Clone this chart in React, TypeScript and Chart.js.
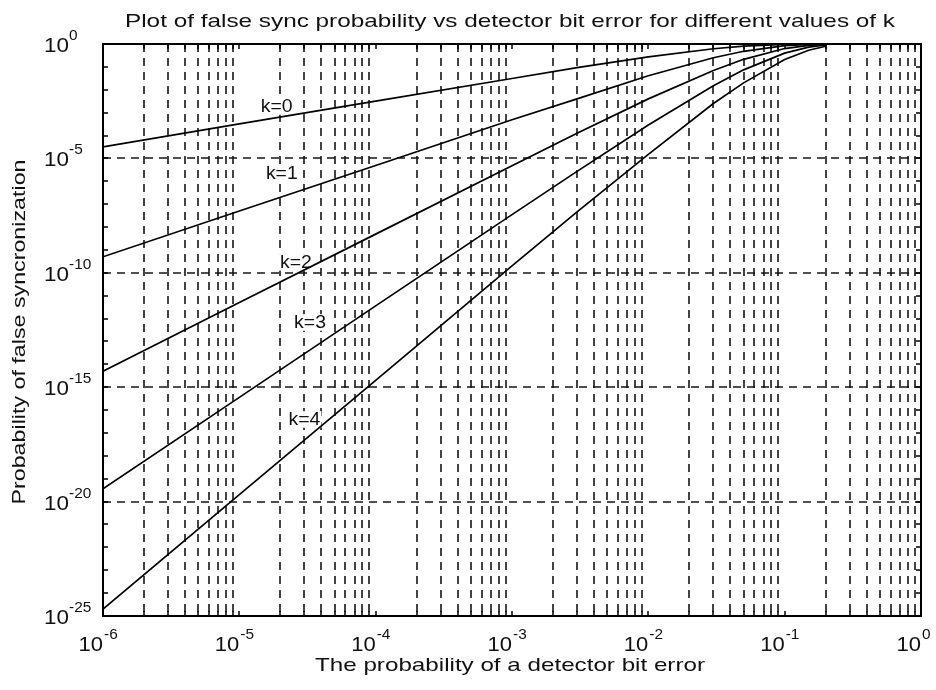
import React, { useEffect, useRef } from "react";
import { Chart, registerables } from "chart.js";

Chart.register(...registerables);

// ---- data ----
const bitErrorProb = [1e-6, 1e-5, 1e-4, 1e-3, 3e-3, 1e-2, 3e-2, 5e-2, 0.1, 0.15, 0.2];
const falseSyncK0 = [3.2e-5, 3.2e-4, 3.2e-3, 3.1e-2, 9.2e-2, 0.275, 0.62, 0.806, 0.966, 0.994, 0.999];
const falseSyncK1 = [5.0e-10, 5.0e-8, 4.9e-6, 4.9e-4, 4.0e-3, 0.041, 0.25, 0.48, 0.844, 0.963, 0.993];
const falseSyncK2 = [5.0e-15, 5.0e-12, 4.9e-9, 4.8e-6, 1.25e-4, 4.0e-3, 7.0e-2, 0.214, 0.633, 0.878, 0.968];
const falseSyncK3 = [3.6e-20, 3.6e-16, 3.6e-12, 3.5e-8, 2.7e-6, 2.9e-4, 1.5e-2, 7.4e-2, 0.40, 0.728, 0.907];
const falseSyncK4 = [2.0e-25, 2.0e-20, 2.0e-15, 2.0e-10, 4.6e-8, 1.5e-5, 2.5e-3, 2.0e-2, 0.21, 0.535, 0.796];
const seriesValues = [falseSyncK0, falseSyncK1, falseSyncK2, falseSyncK3, falseSyncK4];
const curveLabels = ["k=0", "k=1", "k=2", "k=3", "k=4"];
// label anchors in data coordinates (x, y)
const curveLabelX = [1.88e-5, 2.05e-5, 2.6e-5, 3.3e-5, 3.0e-5];
const curveLabelY = [1.9e-3, 2.4e-6, 2.9e-10, 6.9e-13, 4e-17];

const xTickExponents = [-6, -5, -4, -3, -2, -1, 0];
const yTickExponents = [0, -5, -10, -15, -20, -25];
const yGridExponents = [-5, -10, -15, -20];

const titleText = "Plot of false sync probability vs detector bit error for different values of k";
const xTitleText = "The probability of a detector bit error";
const yTitleText = "Probability of false syncronization";

const FONT = '"Liberation Sans", Arial, Helvetica, sans-serif';

function drawText(
  ctx: CanvasRenderingContext2D,
  s: string,
  x: number,
  y: number,
  size: number,
  align: CanvasTextAlign,
  sx: number,
  rot = 0,
  bg = false
) {
  ctx.save();
  ctx.translate(x, y);
  if (rot) ctx.rotate(rot);
  ctx.scale(sx, 1);
  ctx.font = `${size}px ${FONT}`;
  ctx.textAlign = align;
  ctx.textBaseline = "alphabetic";
  if (bg) {
    const w = ctx.measureText(s).width;
    const x0 = align === "center" ? -w / 2 : align === "right" ? -w : 0;
    ctx.fillStyle = "#fff";
    ctx.fillRect(x0 - 1, -size * 0.78, w + 2, size * 0.92);
  }
  ctx.fillStyle = "#111";
  ctx.fillText(s, 0, 0);
  ctx.restore();
}

function fitScale(ctx: CanvasRenderingContext2D, s: string, size: number, width: number) {
  ctx.save();
  ctx.font = `${size}px ${FONT}`;
  const w = ctx.measureText(s).width;
  ctx.restore();
  return width / w;
}

const decor = {
  id: "matlabDecor",
  beforeDraw(chart: any) {
    const ctx = chart.ctx as CanvasRenderingContext2D;
    ctx.save();
    ctx.fillStyle = "#fff";
    ctx.fillRect(0, 0, chart.width, chart.height);
    ctx.restore();
  },
  beforeDatasetsDraw(chart: any) {
    const ctx = chart.ctx as CanvasRenderingContext2D;
    const { left, right, top, bottom } = chart.chartArea;
    const xs = chart.scales.x;
    const ys = chart.scales.y;
    ctx.save();
    ctx.strokeStyle = "#161616";
    ctx.lineWidth = 1.6;
    ctx.setLineDash([8, 6]);
    for (let e = -6; e < 0; e++) {
      for (let m = 2; m <= 9; m++) {
        const px = Math.round(xs.getPixelForValue(m * Math.pow(10, e)));
        ctx.beginPath();
        ctx.moveTo(px, top);
        ctx.lineTo(px, bottom);
        ctx.stroke();
      }
    }
    for (const e of yGridExponents) {
      const py = Math.round(ys.getPixelForValue(Math.pow(10, e)));
      ctx.beginPath();
      ctx.moveTo(left, py);
      ctx.lineTo(right, py);
      ctx.stroke();
    }
    ctx.restore();
    // curve labels (white boxes hide the grid behind them)
    for (let i = 0; i < curveLabels.length; i++) {
      const px = xs.getPixelForValue(curveLabelX[i]);
      const py = ys.getPixelForValue(curveLabelY[i]);
      drawText(ctx, curveLabels[i], px, py + 6, 18, "center", 1.08, 0, true);
    }
  },
  afterDatasetsDraw(chart: any) {
    const ctx = chart.ctx as CanvasRenderingContext2D;
    const { left, right, top, bottom } = chart.chartArea;
    const xs = chart.scales.x;
    const ys = chart.scales.y;
    ctx.save();
    ctx.strokeStyle = "#000";
    ctx.lineWidth = 2;
    ctx.setLineDash([]);
    ctx.strokeRect(left, top, right - left, bottom - top);

    // tick marks
    ctx.lineWidth = 1.5;
    const tl = 5;
    for (let e = -6; e <= 0; e++) {
      for (let m = 1; m <= 9; m++) {
        if (e === 0 && m > 1) break;
        const px = Math.round(xs.getPixelForValue(m * Math.pow(10, e)));
        ctx.beginPath();
        ctx.moveTo(px, bottom);
        ctx.lineTo(px, bottom - tl);
        ctx.moveTo(px, top);
        ctx.lineTo(px, top + tl);
        ctx.stroke();
      }
    }
    for (let e = -25; e <= 0; e++) {
      const py = Math.round(ys.getPixelForValue(Math.pow(10, e)));
      ctx.beginPath();
      ctx.moveTo(left, py);
      ctx.lineTo(left + tl, py);
      ctx.moveTo(right, py);
      ctx.lineTo(right - tl, py);
      ctx.stroke();
    }
    ctx.restore();

    // x tick labels
    for (const e of xTickExponents) {
      const px = xs.getPixelForValue(Math.pow(10, e));
      drawText(ctx, "10", px, bottom + 35, 20, "right", 1.1);
      drawText(ctx, String(e), px + 1, bottom + 23, 14, "left", 1.1);
    }
    // y tick labels
    for (const e of yTickExponents) {
      const py = ys.getPixelForValue(Math.pow(10, e));
      drawText(ctx, "10", 44, py + 8, 20, "left", 1.12);
      drawText(ctx, String(e), 69, py - 4, 14, "left", 1.1);
    }
    // titles
    drawText(ctx, titleText, 510, 27, 19, "center", fitScale(ctx, titleText, 19, 770));
    drawText(ctx, xTitleText, 510, 671, 19, "center", fitScale(ctx, xTitleText, 19, 390));
    drawText(ctx, yTitleText, 25, 332, 19, "center", fitScale(ctx, yTitleText, 19, 345), -Math.PI / 2);
  },
};

export default function App() {
  const canvasRef = useRef<HTMLCanvasElement | null>(null);

  useEffect(() => {
    const canvas = canvasRef.current;
    if (!canvas) return;
    const datasets = seriesValues.map((vals, i) => ({
      label: curveLabels[i],
      data: vals.map((v, j) => ({ x: bitErrorProb[j], y: v })),
      borderColor: "#000",
      backgroundColor: "#000",
      borderWidth: 1.7,
      pointRadius: 0,
      tension: 0,
      fill: false,
    }));
    const chart = new Chart(canvas, {
      type: "line",
      data: { datasets },
      options: {
        responsive: false,
        animation: false,
        devicePixelRatio: 1,
        layout: { padding: { left: 103, right: 15, top: 44, bottom: 74 } },
        scales: {
          x: { type: "logarithmic", min: 1e-6, max: 1, display: false },
          y: { type: "logarithmic", min: 1e-25, max: 1, display: false },
        },
        plugins: {
          legend: { display: false },
          tooltip: { enabled: false },
          title: { display: false },
        },
      },
      plugins: [decor],
    } as any);
    return () => chart.destroy();
  }, []);

  return (
    <div style={{ position: "fixed", left: 0, top: 0, width: 936, height: 690, background: "#fff" }}>
      <canvas ref={canvasRef} width={936} height={690} style={{ width: 936, height: 690, display: "block" }} />
    </div>
  );
}
